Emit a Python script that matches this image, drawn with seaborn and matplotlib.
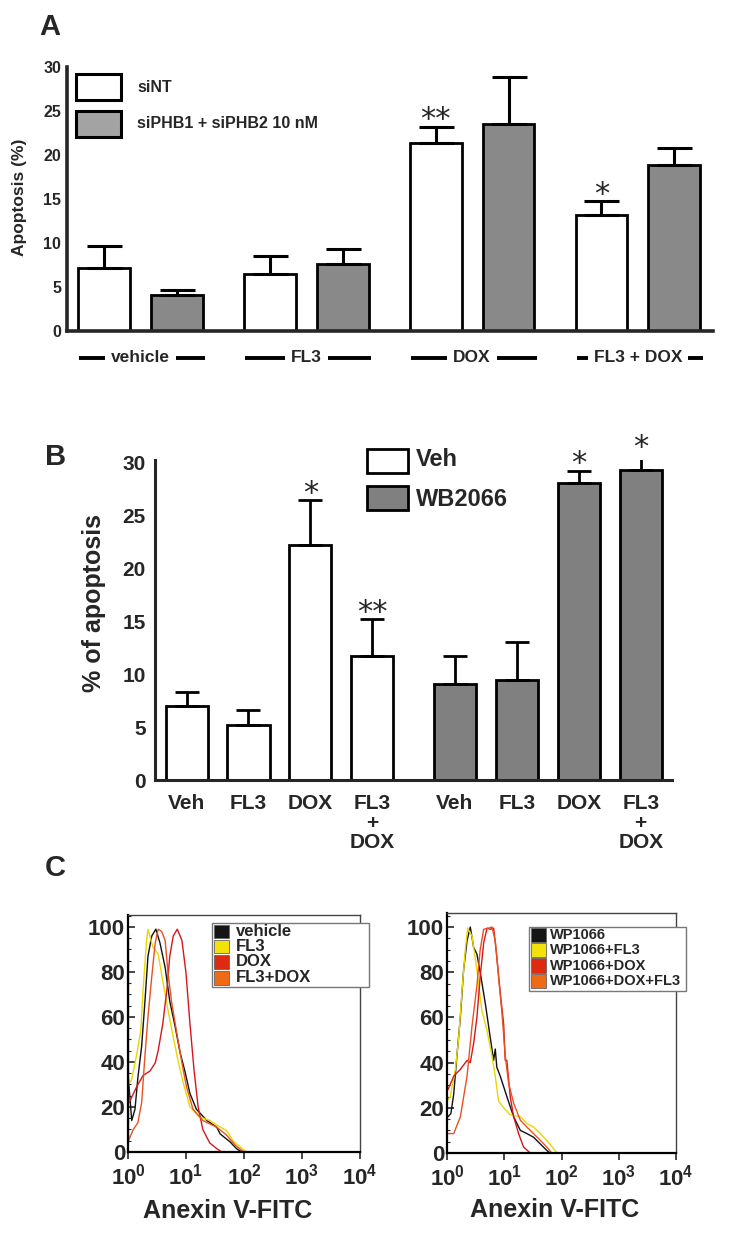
import numpy as np
import pandas as pd
import matplotlib
matplotlib.use('Agg')
import matplotlib.pyplot as plt
import seaborn as sns
from matplotlib.patches import Rectangle
from matplotlib.ticker import AutoMinorLocator, LogLocator, NullFormatter

# ── DATA ────────────────────────────────────────────────────
# panel A
a_groups = ['vehicle', 'FL3', 'DOX', 'FL3 + DOX']
a_sirna = ['siNT', 'siPHB1 + siPHB2 10 nM']
a_sint_mean = [7.1, 6.5, 21.3, 13.2]
a_sint_err = [2.5, 2.0, 1.9, 1.5]
a_siphb_mean = [4.1, 7.6, 23.5, 18.9]
a_siphb_err = [0.5, 1.7, 5.4, 1.9]
a_sint_stars = ['', '', '**', '*']
a_siphb_stars = ['', '', '', '']

# panel B
b_treat = ['Veh', 'FL3', 'DOX', 'FL3\n+\nDOX']
b_pre = ['Veh', 'WB2066']
b_veh_mean = [7.0, 5.2, 22.2, 11.7]
b_veh_err = [1.3, 1.4, 4.2, 3.5]
b_wb_mean = [9.1, 9.4, 28.0, 29.3]
b_wb_err = [2.6, 3.6, 1.2, 1.4]
b_veh_stars = ['', '', '*', '**']
b_wb_stars = ['', '', '*', '*']

# panel C (left) - Anexin V-FITC intensity vs % of max
c1_labels = ['vehicle', 'FL3', 'DOX', 'FL3+DOX']
c1_vehicle_x = [1.0, 1.16, 1.32, 1.48, 1.72, 1.96, 2.21, 2.57, 3.02, 3.55, 4.37, 5.25,
                6.46, 7.94, 9.55, 11.7, 15.1, 22.9, 33.9, 38.9, 57.5, 74.1, 91.2]
c1_vehicle_y = [35, 14, 19, 33, 47, 67, 87, 96, 99, 93, 82, 67,
                56, 44, 36, 26, 19, 14, 11, 8, 4.5, 1.5, 0]
c1_fl3_x = [1.01, 1.01, 1.15, 1.43, 1.66, 1.82, 2.09, 2.21, 2.69, 3.31, 3.98, 4.90,
            6.03, 7.24, 8.91, 11.7, 17.4, 25.7, 33.9, 50.1, 64.6, 97.7, 112]
c1_fl3_y = [105, 30, 32, 44, 54, 72, 94, 99, 91, 88, 76, 63,
            51, 41, 31, 20, 15.5, 14, 12, 9.5, 5, 1, 0]
c1_dox_x = [1.05, 1.41, 1.82, 2.40, 2.95, 3.31, 3.98, 4.68, 5.25, 6.03, 7.08, 8.51,
            10.0, 11.7, 13.8, 16.2, 19.5, 25.7, 33.9, 41.7]
c1_dox_y = [22, 29, 34, 36, 39.6, 45, 57, 72, 87, 96, 99, 94,
            79.5, 57, 36, 20, 10, 4, 1.5, 0]
c1_fl3dox_x = [1.02, 1.02, 1.23, 1.48, 1.72, 1.95, 2.21, 2.57, 2.95, 3.31, 3.80, 4.37,
               4.90, 5.62, 6.92, 8.51, 10.2, 13.2, 19.5, 33.9, 50.1, 70.8, 93.3, 105]
c1_fl3dox_y = [97, 5, 10, 13, 22, 42, 60, 78, 93, 99, 98, 94,
               79.5, 67, 53, 39.6, 29, 19, 14, 11, 7.5, 3, 0.5, 0]

# panel C (right)
c2_labels = ['WP1066', 'WP1066+FL3', 'WP1066+DOX', 'WP1066+DOX+FL3']
c2_wp_x = [1.04, 1.17, 1.31, 1.49, 1.71, 1.95, 2.24, 2.55, 2.92, 3.33, 3.80, 4.68, 5.70,
           6.52, 6.97, 7.41, 8.51, 11.1, 14.6, 19.1, 24.8, 32.4, 42.7, 55.0, 63.1]
c2_wp_y = [16, 17.5, 26, 43, 60, 81, 94, 100, 91, 88, 80, 66, 51,
           41, 46, 38, 34, 25, 16, 10, 8.6, 7, 4, 1.2, 0]
c2_fl3_x = [1.01, 1.01, 1.14, 1.40, 1.60, 1.83, 2.09, 2.29, 2.73, 3.33, 4.07, 5.01,
            6.10, 6.97, 7.94, 9.77, 12.6, 19.1, 24.8, 32.4, 42.7, 55.0, 72.4, 83.2]
c2_fl3_y = [100, 23, 25, 37, 51, 72, 90, 99.5, 96, 81, 63, 54,
            43, 34, 23, 20, 17, 16, 13, 11.5, 8.6, 5.6, 2, 0]
c2_dox_x = [1.04, 1.31, 1.71, 2.24, 2.55, 2.92, 3.33, 3.80, 4.37, 5.01, 5.70, 6.52,
            7.41, 8.51, 9.77, 10.4, 11.1, 12.7, 14.6, 17.8, 21.7, 28.4]
c2_dox_y = [28, 34, 37, 41, 40, 48.5, 60, 78, 93, 99.5, 99, 99.5,
            87, 71, 57, 41, 41, 25, 16, 8.6, 2.7, 0]
c2_doxfl3_x = [1.04, 1.31, 1.71, 2.24, 2.73, 3.33, 3.80, 4.37, 5.33, 6.10, 6.97, 7.94,
               9.12, 10.4, 11.9, 14.6, 19.1, 24.8, 32.4, 42.7, 55.0, 67.6]
c2_doxfl3_y = [8.6, 8.6, 16, 34, 56, 74, 90, 99, 99.5, 100, 94, 78,
               62, 43, 31, 22, 14.5, 11.5, 8.6, 5.6, 2.7, 0]

line_colors = ['#111111', '#e9d700', '#d8161c', '#ea5020']
key_colors = ['#151515', '#f3e20a', '#dd2a10', '#ef6a15']

# ── STYLE ───────────────────────────────────────────────────
sns.set_style('white')
plt.rcParams['font.family'] = ['Liberation Sans', 'DejaVu Sans']
plt.rcParams['font.weight'] = 'bold'
plt.rcParams['axes.labelweight'] = 'bold'
plt.rcParams['mathtext.fontset'] = 'custom'
plt.rcParams['mathtext.bf'] = 'Liberation Sans:bold'
plt.rcParams['mathtext.rm'] = 'Liberation Sans:bold'

W, H = 738, 1245
fig = plt.figure(figsize=(W / 100, H / 100), dpi=100)


def px_rect(l, t, r, b):
    return [l / W, 1 - b / H, (r - l) / W, (b - t) / H]


def key_box(l, t, r, b, face, lw, edge='black'):
    fig.add_artist(Rectangle((l / W, 1 - b / H), (r - l) / W, (b - t) / H,
                             transform=fig.transFigure, facecolor=face,
                             edgecolor=edge, linewidth=lw))


def fig_text(x, y, s, **kw):
    fig.text(x / W, 1 - y / H, s, va='center', **kw)


def add_stars(ax, xs, tops, stars):
    for x, top, s in zip(xs, tops, stars):
        if s:
            ax.annotate(s, (x, top), xytext=(0, -5.5), textcoords='offset points',
                        ha='center', va='bottom', fontsize=22, fontweight='normal',
                        family='DejaVu Sans', annotation_clip=False)


# ── PANEL A ─────────────────────────────────────────────────
ax_a = fig.add_axes(px_rect(66.7, 67, 713, 330.7))
df_a = pd.DataFrame({
    'treatment': a_groups * 2,
    'sirna': np.repeat(a_sirna, len(a_groups)),
    'apoptosis': a_sint_mean + a_siphb_mean,
    'err': a_sint_err + a_siphb_err,
    'star': a_sint_stars + a_siphb_stars,
})
sns.barplot(data=df_a, x='treatment', y='apoptosis', hue='sirna',
            order=a_groups, hue_order=a_sirna, palette=['#ffffff', '#898989'],
            width=0.88, gap=0.29, edgecolor='black', linewidth=2.0,
            errorbar=None, saturation=1, legend=False, ax=ax_a)
for cont, name in zip(ax_a.containers, a_sirna):
    sub = df_a[df_a['sirna'] == name]
    xs = [bar.get_x() + bar.get_width() / 2 for bar in cont]
    ax_a.errorbar(xs, sub['apoptosis'], yerr=[np.zeros(len(sub)), sub['err']],
                  fmt='none', ecolor='black', elinewidth=2.2, capsize=12.6, capthick=2.2)
    add_stars(ax_a, xs, sub['apoptosis'] + sub['err'], sub['star'])

ax_a.set_xlim(-0.445, 3.453)
ax_a.set_ylim(0, 30)
ax_a.set_yticks(range(0, 31, 5))
ax_a.set_xticks([])
ax_a.set_xlabel('')
ax_a.set_ylabel('Apoptosis (%)', fontsize=12.5)
ax_a.yaxis.set_label_coords(-0.061, 0.507)
ax_a.tick_params(axis='y', direction='out', length=3.5, width=2, labelsize=11.5, pad=0.5)
sns.despine(ax=ax_a)
for sp in ['left', 'bottom']:
    ax_a.spines[sp].set_linewidth(2.6)

# group labels "— vehicle —"
for i, g in enumerate(a_groups):
    ax_a.plot([i - 0.37, i + 0.39], [-0.1035, -0.1035], color='black', lw=2.8,
              transform=ax_a.get_xaxis_transform(), clip_on=False, solid_capstyle='butt')
    ax_a.text(i, -0.1035, g, transform=ax_a.get_xaxis_transform(), ha='center',
              va='center', fontsize=12.5,
              bbox=dict(boxstyle='square,pad=0.35', facecolor='white', edgecolor='none'))

key_box(76, 74, 121, 100, '#ffffff', 2.2)
key_box(76, 111, 121, 137, '#a3a3a3', 2.2)
fig_text(137, 87, a_sirna[0], fontsize=11.5)
fig_text(137, 124, a_sirna[1], fontsize=11.5)

# ── PANEL B ─────────────────────────────────────────────────
ax_b = fig.add_axes(px_rect(155, 460, 672, 780))
df_b = pd.DataFrame({
    'treatment': b_treat * 2,
    'pretreat': np.repeat(b_pre, len(b_treat)),
    'apoptosis': b_veh_mean + b_wb_mean,
    'err': b_veh_err + b_wb_err,
    'star': b_veh_stars + b_wb_stars,
})
df_b['pos'] = np.arange(len(df_b)) + np.repeat([0, 0.335], len(b_treat))
sns.barplot(data=df_b, x='pos', y='apoptosis', hue='pretreat', hue_order=b_pre,
            palette=['#ffffff', '#808080'], native_scale=True, dodge=False,
            width=0.68, edgecolor='black', linewidth=2.0, errorbar=None,
            saturation=1, legend=False, ax=ax_b)
ax_b.errorbar(df_b['pos'], df_b['apoptosis'], yerr=[np.zeros(len(df_b)), df_b['err']],
              fmt='none', ecolor='black', elinewidth=2.0, capsize=8.3, capthick=2.0)
add_stars(ax_b, df_b['pos'], df_b['apoptosis'] + df_b['err'], df_b['star'])

ax_b.set_xlim(-0.51, 7.84)
ax_b.set_ylim(0, 30.2)
ax_b.set_yticks(range(0, 31, 5))
ax_b.set_xticks(df_b['pos'], df_b['treatment'], fontsize=15, linespacing=1.05)
ax_b.set_xlabel('')
ax_b.set_ylabel('% of apoptosis', fontsize=18)
ax_b.yaxis.set_label_coords(-0.0948, 0.553)
ax_b.tick_params(axis='x', length=0, pad=10)
ax_b.tick_params(axis='y', direction='out', length=5, width=2, labelsize=15, pad=1.5)
sns.despine(ax=ax_b)
for sp in ['left', 'bottom']:
    ax_b.spines[sp].set_linewidth(2.2)

key_box(367, 449, 408, 473, '#ffffff', 2.0)
key_box(367, 486, 408, 510, '#808080', 2.0)
fig_text(416, 460, b_pre[0], fontsize=17)
fig_text(416, 500, b_pre[1], fontsize=17)

# ── PANEL C ─────────────────────────────────────────────────
ax_c1 = fig.add_axes(px_rect(128, 915, 360, 1152))
ax_c2 = fig.add_axes(px_rect(447, 913, 676, 1153))

c1_series = [(c1_vehicle_x, c1_vehicle_y), (c1_fl3_x, c1_fl3_y),
             (c1_dox_x, c1_dox_y), (c1_fl3dox_x, c1_fl3dox_y)]
c2_series = [(c2_wp_x, c2_wp_y), (c2_fl3_x, c2_fl3_y),
             (c2_dox_x, c2_dox_y), (c2_doxfl3_x, c2_doxfl3_y)]

for ax, series, ytop in [(ax_c1, c1_series, 105.3), (ax_c2, c2_series, 106.2)]:
    ax.set_xscale('log')
    for (xs, ys), col in zip(series, line_colors):
        sns.lineplot(x=xs, y=ys, sort=False, estimator=None, color=col, lw=1.0, ax=ax)
    ax.set_xlim(1, 1e4)
    ax.set_ylim(0, ytop)
    ax.set_xticks([1, 10, 100, 1000, 10000],
                  [r'$\mathbf{10^{%d}}$' % k for k in range(5)])
    ax.xaxis.set_minor_locator(LogLocator(base=10, subs=np.arange(2, 10)))
    ax.xaxis.set_minor_formatter(NullFormatter())
    ax.set_yticks(range(0, 101, 20))
    ax.yaxis.set_minor_locator(AutoMinorLocator(4))
    ax.tick_params(axis='x', which='major', direction='out', length=5, width=1.2,
                   labelsize=16, pad=3)
    ax.tick_params(axis='x', which='minor', direction='in', length=3, width=0.8)
    ax.tick_params(axis='y', which='major', direction='in', length=5, width=1.2,
                   labelsize=16, pad=2)
    ax.tick_params(axis='y', which='minor', direction='in', length=2.5, width=0.8)
    ax.tick_params(bottom=True, left=True, which='both')
    for sp in ['left', 'bottom']:
        ax.spines[sp].set_linewidth(1.6)
        ax.spines[sp].set_color('black')
    for sp in ['top', 'right']:
        ax.spines[sp].set_linewidth(1.0)
        ax.spines[sp].set_color('#444444')
    ax.set_xlabel('')
    ax.set_ylabel('')

ax_c1.text(0.429, -0.249, 'Anexin V-FITC', transform=ax_c1.transAxes,
           ha='center', va='center', fontsize=18)
ax_c2.text(0.472, -0.2375, 'Anexin V-FITC', transform=ax_c2.transAxes,
           ha='center', va='center', fontsize=18)

# flow legends
key_box(212, 923, 369, 987, '#ffffff', 1.0, edge='#777777')
for (t, b), col, lab, yc in zip([(925, 938), (940, 953), (955, 969), (971, 985)],
                                key_colors, c1_labels, [931.5, 946.5, 962, 978]):
    key_box(213.5, t, 229, b, col, 0.6, edge='#666666')
    fig_text(236, yc, lab, fontsize=12)

key_box(529, 927, 686, 991, '#ffffff', 1.0, edge='#777777')
for (t, b), col, lab, yc in zip([(928, 942), (943, 957), (958, 973), (974, 988)],
                                key_colors, c2_labels, [935, 950, 965.5, 981]):
    key_box(531, t, 546, b, col, 0.6, edge='#666666')
    fig_text(550, yc, lab, fontsize=10.5)

# panel letters
fig_text(50, 27, 'A', fontsize=21, ha='center')
fig_text(55.5, 457, 'B', fontsize=21, ha='center')
fig_text(55.5, 868, 'C', fontsize=21, ha='center')

fig.savefig('out.png', dpi=100)
